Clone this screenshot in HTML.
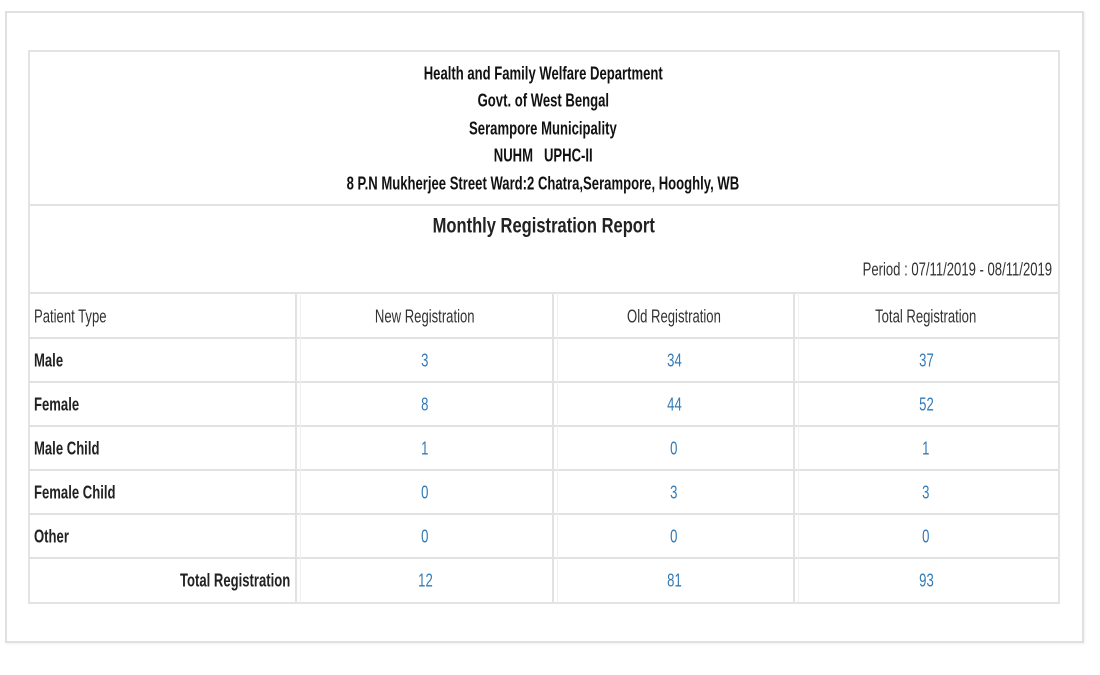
<!DOCTYPE html>
<html>
<head>
<meta charset="utf-8">
<style>
  html, body { margin:0; padding:0; background:#fff; }
  body { width:1100px; height:675px; overflow:hidden; position:relative;
         font-family:"Liberation Sans", Arial, sans-serif; color:#333; }
  .h { position:absolute; height:2px; background:#e2e2e2; }
  .v { position:absolute; width:2px; background:#e2e2e2; }
  .c, .l, .r { position:absolute; white-space:nowrap; height:20px; line-height:20px; font-size:17px; }
  .c { width:600px; margin-left:-300px; text-align:center; }
  .c span { display:inline-block; transform:scale(0.77,1.1); transform-origin:center; }
  .l span { display:inline-block; transform:scale(0.77,1.1); transform-origin:left center; }
  .r { text-align:right; }
  .r span { display:inline-block; transform:scale(0.77,1.1); transform-origin:right center; }
  .hd { font-weight:bold; color:#111; }
  .n { color:#337ab7; }
  .lab { font-weight:bold; color:#222; }
</style>
</head>
<body>
  <!-- outer box -->
  <div style="position:absolute;left:5px;top:11px;width:1075px;height:628px;border:2px solid #e0e0e0;box-shadow:1px 1px 2px rgba(0,0,0,0.06);"></div>
  <!-- inner box -->
  <div style="position:absolute;left:28px;top:50px;width:1028px;height:550px;border:2px solid #e4e4e4;"></div>

  <!-- horizontal lines -->
  <div class="h" style="left:29px;top:204px;width:1029px;"></div>
  <div class="h" style="left:29px;top:292px;width:1029px;"></div>
  <div class="h" style="left:29px;top:337px;width:1029px;"></div>
  <div class="h" style="left:29px;top:381px;width:1029px;"></div>
  <div class="h" style="left:29px;top:425px;width:1029px;"></div>
  <div class="h" style="left:29px;top:469px;width:1029px;"></div>
  <div class="h" style="left:29px;top:513px;width:1029px;"></div>
  <div class="h" style="left:29px;top:557px;width:1029px;"></div>

  <!-- vertical column lines -->
  <div class="v" style="left:295px;top:293px;height:309px;"></div>
  <div class="v" style="left:300px;top:293px;height:309px;width:1px;background:#f0f0f0;"></div>
  <div class="v" style="left:552px;top:293px;height:309px;"></div>
  <div class="v" style="left:557px;top:293px;height:309px;width:1px;background:#f0f0f0;"></div>
  <div class="v" style="left:793px;top:293px;height:309px;"></div>
  <div class="v" style="left:798px;top:293px;height:309px;width:1px;background:#f0f0f0;"></div>

  <!-- header lines -->
  <div class="c hd" style="left:543px;top:64px;"><span>Health and Family Welfare Department</span></div>
  <div class="c hd" style="left:543px;top:91px;"><span>Govt. of West Bengal</span></div>
  <div class="c hd" style="left:543px;top:119px;"><span>Serampore Municipality</span></div>
  <div class="c hd" style="left:543px;top:146px;"><span>NUHM&nbsp;&nbsp;&nbsp;UPHC-II</span></div>
  <div class="c hd" style="left:543px;top:174px;"><span>8 P.N Mukherjee Street Ward:2 Chatra,Serampore, Hooghly, WB</span></div>

  <div class="c" style="left:544px;top:217px;font-size:19px;font-weight:bold;color:#222;"><span style="transform:scale(0.87,1.1);">Monthly Registration Report</span></div>

  <div class="r" style="left:652px;width:400px;top:260px;color:#333;"><span>Period : 07/11/2019 - 08/11/2019</span></div>

  <!-- header row -->
  <div class="l" style="left:34px;top:307px;color:#333;"><span>Patient Type</span></div>
  <div class="c" style="left:425px;top:307px;color:#333;"><span>New Registration</span></div>
  <div class="c" style="left:674px;top:307px;color:#333;"><span>Old Registration</span></div>
  <div class="c" style="left:926px;top:307px;color:#333;"><span>Total Registration</span></div>

  <!-- Male -->
  <div class="l lab" style="left:34px;top:351px;"><span>Male</span></div>
  <div class="c n" style="left:425px;top:351px;"><span>3</span></div>
  <div class="c n" style="left:674px;top:351px;"><span>34</span></div>
  <div class="c n" style="left:926px;top:351px;"><span>37</span></div>

  <!-- Female -->
  <div class="l lab" style="left:34px;top:395px;"><span>Female</span></div>
  <div class="c n" style="left:425px;top:395px;"><span>8</span></div>
  <div class="c n" style="left:674px;top:395px;"><span>44</span></div>
  <div class="c n" style="left:926px;top:395px;"><span>52</span></div>

  <!-- Male Child -->
  <div class="l lab" style="left:34px;top:439px;"><span>Male Child</span></div>
  <div class="c n" style="left:425px;top:439px;"><span>1</span></div>
  <div class="c n" style="left:674px;top:439px;"><span>0</span></div>
  <div class="c n" style="left:926px;top:439px;"><span>1</span></div>

  <!-- Female Child -->
  <div class="l lab" style="left:34px;top:483px;"><span>Female Child</span></div>
  <div class="c n" style="left:425px;top:483px;"><span>0</span></div>
  <div class="c n" style="left:674px;top:483px;"><span>3</span></div>
  <div class="c n" style="left:926px;top:483px;"><span>3</span></div>

  <!-- Other -->
  <div class="l lab" style="left:34px;top:527px;"><span>Other</span></div>
  <div class="c n" style="left:425px;top:527px;"><span>0</span></div>
  <div class="c n" style="left:674px;top:527px;"><span>0</span></div>
  <div class="c n" style="left:926px;top:527px;"><span>0</span></div>

  <!-- Total -->
  <div class="r lab" style="left:90px;width:200px;top:571px;"><span>Total Registration</span></div>
  <div class="c n" style="left:425px;top:571px;"><span>12</span></div>
  <div class="c n" style="left:674px;top:571px;"><span>81</span></div>
  <div class="c n" style="left:926px;top:571px;"><span>93</span></div>
</body>
</html>
